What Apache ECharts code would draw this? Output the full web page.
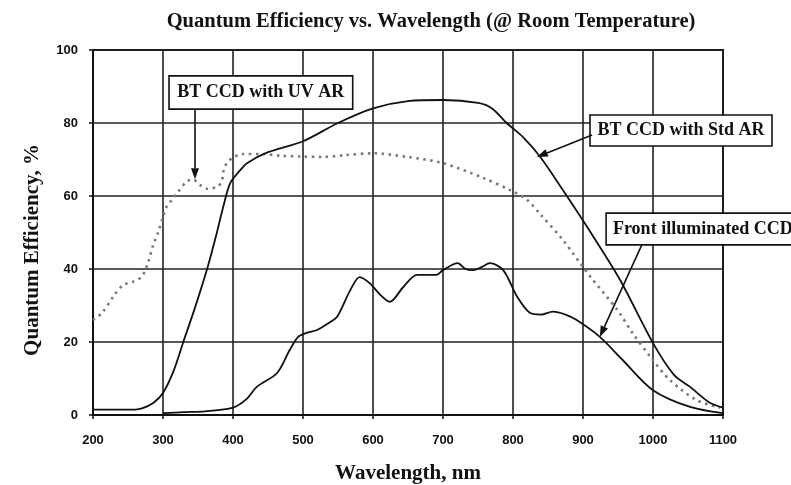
<!DOCTYPE html>
<html><head><meta charset="utf-8">
<script src="https://cdn.jsdelivr.net/npm/echarts@6/dist/echarts.min.js"></script>
<style>html,body{margin:0;padding:0;background:#fff}#c{width:791px;height:485px}</style>
</head><body><div id="c"></div>
<script>
const titleText = 'Quantum Efficiency vs. Wavelength (@ Room Temperature)';
const xAxisName = 'Wavelength, nm';
const yAxisName = 'Quantum Efficiency, %';
const xMin = 200, xMax = 1100, xStep = 100;
const yMin = 0, yMax = 100, yStep = 20;

// BT CCD with Std AR (solid)
const stdWave = [200,230,260,270,286,300,315,329,345,363,377,386,396,410,420,450,500,550,600,650,700,750,770,791,815,839,870,906,953,1000,1030,1053,1080,1100];
const stdQE   = [1.5,1.5,1.5,1.8,3.3,6,12,20,29,40,50,57,63.5,67,69,72,75,80,84,86,86.3,85.5,84,80,76,70.7,62,51.5,37,19.7,11,7.7,3.5,2];

// BT CCD with UV AR (dotted)
const uvWave = [200,213,231,243,257,270,279,286,293,305,313,321,334,343,353,363,377,384,386,391,400,413,440,471,500,529,560,600,649,700,757,796,820,839,871,910,949,971,996,1024,1063,1096];
const uvQE   = [26,28,33,35.6,36.5,38,42,46.6,50,57,59,61,64,64.5,63,62,62.5,64,66.5,69,70.5,71.5,71.5,71,70.8,70.7,71.2,71.7,70.7,69,65,61.6,59,55,48,38,28.8,22.4,16,9.6,4,2];

// Front illuminated CCD (solid)
const fiWave = [300,330,360,400,420,434,463,481,493,505,520,535,549,567,581,596,610,624,643,663,691,700,721,732,743,755,767,786,806,824,840,857,875,891,924,957,1000,1053,1100];
const fiQE   = [0.5,0.8,1,2,4.5,7.7,11.5,17.8,21.4,22.5,23.3,25,27,34,37.8,36,33,31,35,38.4,38.4,39.7,41.6,40,39.7,40.5,41.6,39.7,32.4,28,27.5,28.3,27.5,26,21.4,15,6.8,2.2,0.5];

// annotation labels
const noteLabels = ['BT CCD with UV AR', 'BT CCD with Std AR', 'Front illuminated CCD'];
// annotation geometry in data units: box [x1,y1,x2,y2], arrow [fromX,fromY,toX,toY]
const noteBoxes  = [[308.6,92.9,571,83.8],[910,82.2,1170,73.7],[933,55.3,1215,46.6]];
const noteArrows = [[345.7,83.6,345.7,64.6],[913,76.7,834,70.7],[984,46.6,924,21.4]];

const pair = (xs, ys) => xs.map((x, i) => [x, ys[i]]);
const serif = '"Liberation Serif","DejaVu Serif",serif';
const sans = '"Liberation Sans",Arial,sans-serif';

const chart = echarts.init(document.getElementById('c'), null, {renderer: 'canvas'});
const option = {
  animation: false,
  backgroundColor: '#fff',
  title: {
    text: titleText, left: 426, top: 6, textAlign: 'center',
    textStyle: {fontFamily: serif, fontWeight: 'bold', fontSize: 20.5, color: '#111'}
  },
  grid: {left: 93, right: 68, top: 50, bottom: 70, containLabel: false, outerBoundsMode: 'none',
         show: true, borderColor: '#111', borderWidth: 2, backgroundColor: 'transparent'},
  xAxis: {
    type: 'value', min: xMin, max: xMax, interval: xStep,
    name: xAxisName, nameLocation: 'middle', nameGap: 48,
    nameTextStyle: {fontFamily: serif, fontWeight: 'bold', fontSize: 21, color: '#111'},
    axisLine: {show: true, lineStyle: {color: '#111', width: 2}},
    axisTick: {show: true, length: 4, lineStyle: {color: '#111', width: 1.5}},
    axisLabel: {margin: 19, fontFamily: sans, fontWeight: 'bold', fontSize: 13, color: '#111', formatter: v => String(v)},
    splitLine: {show: true, lineStyle: {color: '#222', width: 1.6}}
  },
  yAxis: {
    type: 'value', min: yMin, max: yMax, interval: yStep,
    name: yAxisName, nameLocation: 'middle', nameGap: 50, nameRotate: 90,
    nameTextStyle: {fontFamily: serif, fontWeight: 'bold', fontSize: 21, color: '#111', padding: [0, 35, 0, 0]},
    axisLine: {show: true, lineStyle: {color: '#111', width: 2}},
    axisTick: {show: true, length: 4, lineStyle: {color: '#111', width: 1.5}},
    axisLabel: {margin: 15, fontFamily: sans, fontWeight: 'bold', fontSize: 13, color: '#111', formatter: v => String(v)},
    splitLine: {show: true, lineStyle: {color: '#222', width: 1.6}}
  },
  series: [
    {name: 'BT CCD with UV AR', type: 'line', data: pair(uvWave, uvQE), showSymbol: false, smooth: 0.3,
     lineStyle: {color: '#7a7a7a', width: 2.6, type: [2.5, 4.5]}, z: 3},
    {name: 'BT CCD with Std AR', type: 'line', data: pair(stdWave, stdQE), showSymbol: false, smooth: 0.3,
     lineStyle: {color: '#111', width: 1.8}, z: 4},
    {name: 'Front illuminated CCD', type: 'line', data: pair(fiWave, fiQE), showSymbol: false, smooth: 0.3,
     lineStyle: {color: '#111', width: 1.8}, z: 4}
  ]
};
chart.setOption(option);

const toPx = (x, y) => chart.convertToPixel({gridIndex: 0}, [x, y]);
const graphics = [];
noteBoxes.forEach((b, i) => {
  const p1 = toPx(b[0], b[1]), p2 = toPx(b[2], b[3]);
  graphics.push({type: 'rect', z: 100, shape: {x: p1[0], y: p1[1], width: p2[0]-p1[0], height: p2[1]-p1[1]},
    style: {fill: '#fff', stroke: '#111', lineWidth: 1.6}});
  graphics.push({type: 'text', z: 101, x: (p1[0]+p2[0])/2 + (i === 2 ? -2 : 0), y: (p1[1]+p2[1])/2,
    style: {text: noteLabels[i], fill: '#111', font: 'bold 18px ' + serif, align: 'center', verticalAlign: 'middle'}});
});
noteArrows.forEach(a => {
  const s = toPx(a[0], a[1]), e = toPx(a[2], a[3]);
  const dx = e[0]-s[0], dy = e[1]-s[1], L = Math.hypot(dx, dy), ux = dx/L, uy = dy/L;
  const hl = 11, hw = 4;
  const bx = e[0]-ux*hl, by = e[1]-uy*hl;
  graphics.push({type: 'line', z: 100, shape: {x1: s[0], y1: s[1], x2: bx, y2: by}, style: {stroke: '#111', lineWidth: 1.6}});
  graphics.push({type: 'polygon', z: 100, shape: {points: [[e[0], e[1]], [bx - uy*hw, by + ux*hw], [bx + uy*hw, by - ux*hw]]},
    style: {fill: '#111'}});
});
chart.setOption({graphic: graphics});
</script>
</body></html>
